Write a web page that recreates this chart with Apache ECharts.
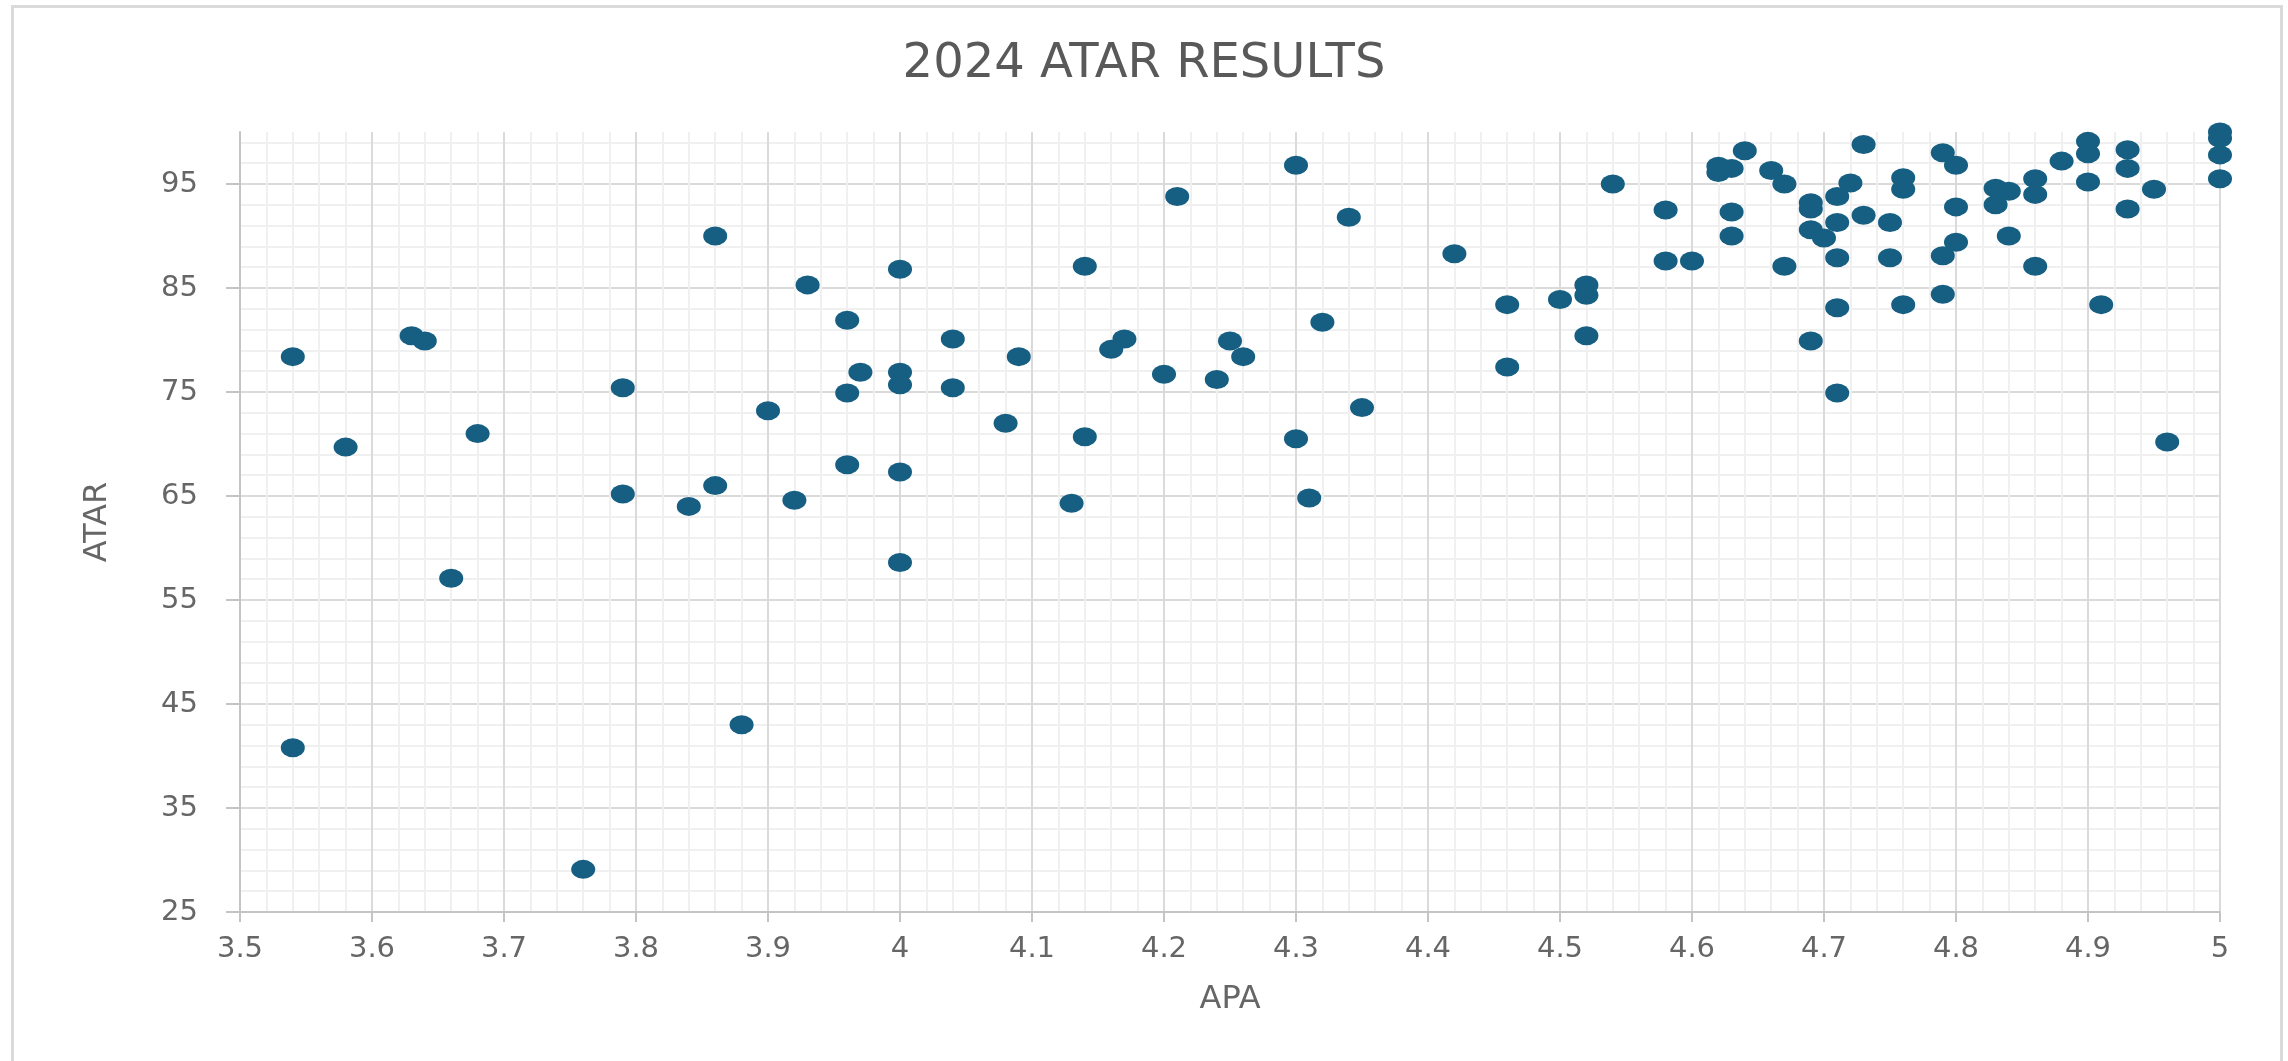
<!DOCTYPE html>
<html>
<head>
<meta charset="utf-8">
<title>2024 ATAR Results</title>
<script src="https://cdn.jsdelivr.net/npm/echarts@6/dist/echarts.min.js"></script>
<style>
  html, body { margin: 0; padding: 0; background: #fff; }
  #frame {
    position: absolute; left: 11px; top: 5px;
    width: 2272px; height: 1100px;
    box-sizing: border-box;
    border: 3px solid #dadada;
  }
  #chart { position: absolute; left: 0; top: 0; width: 2288px; height: 1061px; }
</style>
</head>
<body>
<div id="frame"></div>
<div id="chart"></div>
<script>
// APA (x) and ATAR (y) for each student
const apa = [
  3.54, 3.54, 3.58, 3.63, 3.64, 3.66, 3.68, 3.76, 3.79, 3.79,
  3.84, 3.86, 3.86, 3.88, 3.90, 3.92, 3.93, 3.96, 3.96, 3.96,
  3.97, 4.00, 4.00, 4.00, 4.00, 4.00, 4.04, 4.04, 4.08, 4.09,
  4.13, 4.14, 4.14, 4.16, 4.17, 4.20, 4.21, 4.24, 4.25, 4.26,
  4.30, 4.30, 4.31, 4.32, 4.34, 4.35, 4.42, 4.46, 4.46, 4.50,
  4.52, 4.52, 4.52, 4.54, 4.58, 4.58, 4.60, 4.62, 4.62, 4.63,
  4.63, 4.63, 4.64, 4.66, 4.67, 4.67, 4.69, 4.69, 4.69, 4.69,
  4.70, 4.71, 4.71, 4.71, 4.71, 4.71, 4.72, 4.73, 4.73, 4.75,
  4.75, 4.76, 4.76, 4.76, 4.79, 4.79, 4.79, 4.80, 4.80, 4.80,
  4.83, 4.83, 4.84, 4.84, 4.86, 4.86, 4.86, 4.88, 4.90, 4.90,
  4.90, 4.91, 4.93, 4.93, 4.93, 4.95, 4.96, 5.00, 5.00, 5.00,
  5.00
]
const atar = [
  78.4, 40.8, 69.7, 80.4, 79.9, 57.1, 71.0, 29.1, 75.4, 65.2,
  64.0, 90.0, 66.0, 43.0, 73.2, 64.6, 85.3, 81.9, 74.9, 68.0,
  76.9, 86.8, 76.9, 75.7, 67.3, 58.6, 80.1, 75.4, 72.0, 78.4,
  64.3, 87.1, 70.7, 79.1, 80.1, 76.7, 93.8, 76.2, 79.9, 78.4,
  96.8, 70.5, 64.8, 81.7, 91.8, 73.5, 88.3, 83.4, 77.4, 83.9,
  85.3, 84.3, 80.4, 95.0, 92.5, 87.6, 87.6, 96.7, 96.1, 96.5,
  92.3, 90.0, 98.2, 96.3, 95.0, 87.1, 93.2, 92.6, 90.6, 79.9,
  89.8, 93.8, 91.3, 87.9, 83.1, 74.9, 95.1, 98.8, 92.0, 91.3,
  87.9, 95.6, 94.5, 83.4, 98.0, 88.1, 84.4, 96.8, 92.8, 89.4,
  94.6, 93.0, 94.3, 90.0, 95.5, 94.0, 87.1, 97.2, 99.1, 97.9,
  95.2, 83.4, 98.3, 96.5, 92.6, 94.5, 70.2, 100.0, 99.4, 97.8,
  95.5
]
const yTicks = [25, 35, 45, 55, 65, 75, 85, 95]

const FONT = 'DejaVu Sans'
const TEXT = '#666666'
const AXIS = '#c4c4c4'
const MAJOR = '#dadada'
const MINOR = '#f0f0f0'

// horizontal grid: one line per unit, coloured major every 10 (from 25), minor every 2
const hLineColors = []
for (let i = 0; i < 10; i++) {
  hLineColors.push(i === 0 ? MAJOR : (i % 2 === 0 ? MINOR : 'rgba(0,0,0,0)'))
}

const points = apa.map((x, i) => [x, atar[i]])

const chart = echarts.init(document.getElementById('chart'))
chart.setOption({
  animation: false,
  backgroundColor: 'transparent',
  title: {
    text: '2024 ATAR RESULTS',
    left: 'center',
    top: 36,
    textStyle: { fontFamily: FONT, fontSize: 48, fontWeight: 'normal', color: '#595959' }
  },
  grid: { left: 240, right: 68, top: 132, bottom: 149 },
  xAxis: {
    type: 'value',
    min: 3.5,
    max: 5,
    interval: 0.1,
    name: 'APA',
    nameLocation: 'middle',
    nameGap: 72,
    nameTextStyle: { fontFamily: FONT, fontSize: 32, color: TEXT },
    axisLine: { show: true, onZero: false, lineStyle: { color: AXIS, width: 2 } },
    axisTick: { show: true, length: 10, lineStyle: { color: AXIS, width: 2 } },
    axisLabel: { margin: 23, fontFamily: FONT, fontSize: 29, color: TEXT },
    splitLine: { show: true, lineStyle: { color: MAJOR, width: 2 } },
    minorTick: { show: false, splitNumber: 5 },
    minorSplitLine: { show: true, lineStyle: { color: MINOR, width: 2 } }
  },
  yAxis: [
    {
      type: 'value',
      min: 25,
      max: 100,
      name: 'ATAR',
      nameLocation: 'middle',
      nameGap: 126,
      nameTextStyle: { fontFamily: FONT, fontSize: 32, color: TEXT },
      axisLine: { show: true, lineStyle: { color: AXIS, width: 2 } },
      axisTick: { show: true, length: 14, customValues: yTicks, lineStyle: { color: AXIS, width: 2 } },
      axisLabel: { customValues: yTicks, margin: 42, fontFamily: FONT, fontSize: 29, color: TEXT },
      splitLine: { show: false }
    },
    {
      // grid lines only
      type: 'value',
      min: 25,
      max: 100,
      interval: 1,
      axisLine: { show: false },
      axisTick: { show: false },
      axisLabel: { show: false },
      splitLine: { show: true, lineStyle: { color: hLineColors, width: 2 } }
    }
  ],
  series: [
    {
      type: 'scatter',
      data: points,
      symbol: 'circle',
      symbolSize: [24, 19],
      itemStyle: { color: '#175f82', opacity: 1 }
    }
  ]
})
</script>
</body>
</html>
